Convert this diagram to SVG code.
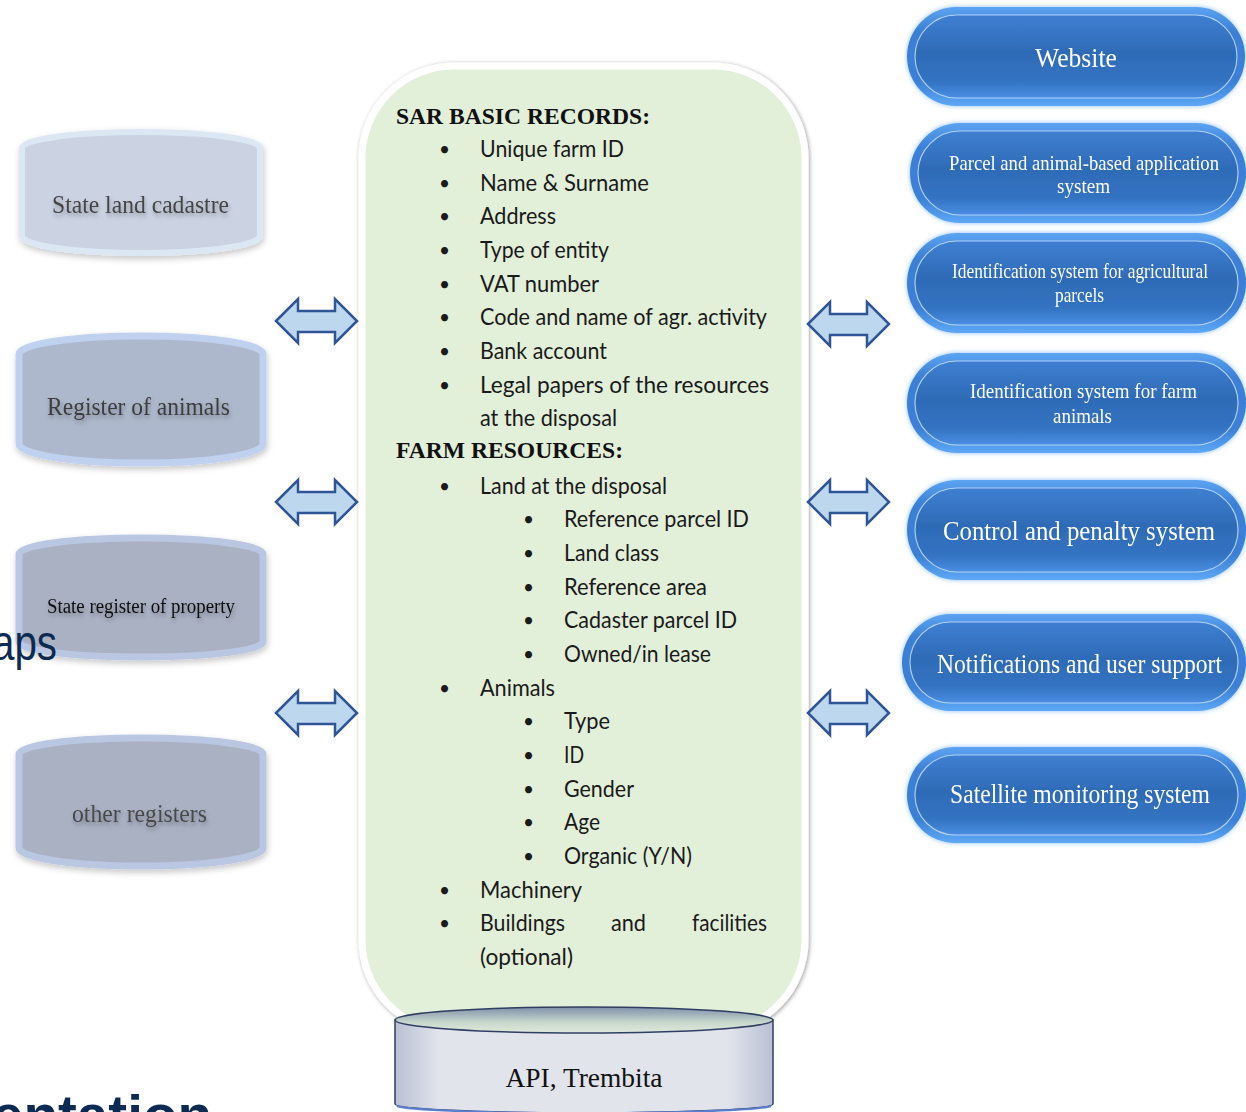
<svg xmlns="http://www.w3.org/2000/svg" width="1246" height="1112" viewBox="0 0 1246 1112">
<defs>
  <filter id="softShadow" x="-10%" y="-10%" width="120%" height="125%">
    <feDropShadow dx="1" dy="3" stdDeviation="3" flood-color="#000" flood-opacity="0.22"/>
  </filter>
  <filter id="boxShadow" x="-5%" y="-5%" width="110%" height="110%">
    <feDropShadow dx="1" dy="1" stdDeviation="2.2" flood-color="#000" flood-opacity="0.4"/>
  </filter>
  <filter id="textShadow" x="-10%" y="-30%" width="120%" height="170%">
    <feDropShadow dx="1" dy="3" stdDeviation="2" flood-color="#000" flood-opacity="0.3"/>
  </filter>
  <filter id="pillGlow" x="-5%" y="-10%" width="110%" height="120%">
    <feGaussianBlur in="SourceAlpha" stdDeviation="2.5" result="b"/>
    <feFlood flood-color="#6fb0ff" flood-opacity="0.8"/>
    <feComposite in2="b" operator="in" result="g"/>
    <feMerge><feMergeNode in="g"/><feMergeNode in="SourceGraphic"/></feMerge>
  </filter>
  <linearGradient id="pillOuter" x1="0" y1="0" x2="0" y2="1">
    <stop offset="0" stop-color="#5da4f2"/>
    <stop offset="0.25" stop-color="#3a7fd6"/>
    <stop offset="0.75" stop-color="#3a7fd6"/>
    <stop offset="1" stop-color="#5ea8f6"/>
  </linearGradient>
  <linearGradient id="pillInner" x1="0" y1="0" x2="0" y2="1">
    <stop offset="0" stop-color="#3f7fd2"/>
    <stop offset="0.45" stop-color="#2e6bb6"/>
    <stop offset="0.8" stop-color="#3373c2"/>
    <stop offset="1" stop-color="#4a8ee2"/>
  </linearGradient>
  <linearGradient id="apiBody" x1="0" y1="0" x2="1" y2="0">
    <stop offset="0" stop-color="#b9c0d3"/>
    <stop offset="0.12" stop-color="#e2e4ec"/>
    <stop offset="0.88" stop-color="#e2e4ec"/>
    <stop offset="1" stop-color="#b9c0d3"/>
  </linearGradient>
  <linearGradient id="apiTop" x1="0" y1="0" x2="0" y2="1">
    <stop offset="0" stop-color="#7f90ab"/>
    <stop offset="0.6" stop-color="#c9d8cc"/>
    <stop offset="1" stop-color="#e0e9dc"/>
  </linearGradient>
  <style>
    .cylText { font-family: "Liberation Serif", serif; }
    .pill-t { font-family: "Liberation Serif", serif; fill: #ffffff; text-anchor: middle; }
    .pillInnerLine { fill: url(#pillInner); stroke: #d6e8ff; stroke-opacity: 0.75; stroke-width: 1.2; }
    .pillOuterShape { fill: url(#pillOuter); }
    .hdr { font-family: "Liberation Serif", serif; font-weight: bold; font-size: 24px; fill: #111; }
    .li { font-family: Lato, "Liberation Sans", sans-serif; font-size: 23px; fill: #1a1a1a; }
    .bul { font-family: Lato, "Liberation Sans", sans-serif; font-size: 19px; fill: #1a1a1a; }
    .arrow { fill: #bdd7ee; stroke: #2f5597; stroke-width: 2.5; stroke-linejoin: miter; }
    .bgText { font-family: "Liberation Sans", Arial, sans-serif; fill: #0d2a52; }
  </style>
</defs>

<rect width="1246" height="1112" fill="#ffffff"/>

<!-- left register cylinders -->
<g id="n-state-land-cadastre" filter="url(#softShadow)">
  <path d="M22,148 A119,16 0 0 1 260,148 L260,236 A119,17 0 0 1 22,236 Z" fill="#cbd3e3" stroke="#dce7f4" stroke-width="6"/>
  <text class="cylText" x="52" y="213" font-size="26" fill="#444" textLength="177" lengthAdjust="spacingAndGlyphs" filter="url(#textShadow)">State land cadastre</text>
</g>
<g id="n-register-of-animals" filter="url(#softShadow)">
  <path d="M19,354 A122,18 0 0 1 263,354 L263,444 A122,19 0 0 1 19,444 Z" fill="#adb8cc" stroke="#bfd1ee" stroke-width="7"/>
  <text class="cylText" x="47" y="415" font-size="26" fill="#3d3d3d" textLength="183" lengthAdjust="spacingAndGlyphs" filter="url(#textShadow)">Register of animals</text>
</g>
<g id="n-state-register-property" filter="url(#softShadow)">
  <path d="M19,554 A122,16 0 0 1 263,554 L263,642 A122,15 0 0 1 19,642 Z" fill="#a9b1c3" stroke="#b9c7e2" stroke-width="7"/>
  <text class="cylText" x="47" y="613" font-size="20" fill="#111" textLength="188" lengthAdjust="spacingAndGlyphs" filter="url(#textShadow)">State register of property</text>
</g>
<g id="n-other-registers" filter="url(#softShadow)">
  <path d="M19,754 A122,16 0 0 1 263,754 L263,848 A122,18 0 0 1 19,848 Z" fill="#a9b1c3" stroke="#b9c7e2" stroke-width="7"/>
  <text class="cylText" x="72" y="822" font-size="26" fill="#4a4a4a" textLength="135" lengthAdjust="spacingAndGlyphs" filter="url(#textShadow)">other registers</text>
</g>

<!-- background slide fragments -->
<text class="bgText" x="-8" y="660" font-size="50" textLength="65" lengthAdjust="spacingAndGlyphs">aps</text>
<text class="bgText" x="-8" y="1134" font-size="56" font-weight="bold" textLength="220" lengthAdjust="spacingAndGlyphs">entation</text>

<!-- central record box -->
<g id="n-sar-records">
  <rect x="362" y="66" width="443" height="966" rx="92" ry="92" fill="#e2efd9" stroke="#ffffff" stroke-width="7" filter="url(#boxShadow)"/>
  <text class="hdr" x="396" y="124" textLength="254" lengthAdjust="spacingAndGlyphs">SAR BASIC RECORDS:</text>
  <g class="bul">
    <text x="439" y="156">•</text><text x="439" y="189.7">•</text><text x="439" y="223.3">•</text>
    <text x="439" y="257">•</text><text x="439" y="290.7">•</text><text x="439" y="324.3">•</text>
    <text x="439" y="358">•</text><text x="439" y="391.7">•</text>
    <text x="439" y="492.7">•</text>
    <text x="523" y="526.3">•</text><text x="523" y="560">•</text><text x="523" y="593.7">•</text>
    <text x="523" y="627.3">•</text><text x="523" y="661">•</text>
    <text x="439" y="694.7">•</text>
    <text x="523" y="728.3">•</text><text x="523" y="762">•</text><text x="523" y="795.7">•</text>
    <text x="523" y="829.3">•</text><text x="523" y="863">•</text>
    <text x="439" y="896.7">•</text><text x="439" y="930.3">•</text>
  </g>
  <g class="li">
    <text x="480" y="157" textLength="144" lengthAdjust="spacingAndGlyphs">Unique farm ID</text>
    <text x="480" y="190.7" textLength="169" lengthAdjust="spacingAndGlyphs">Name &amp; Surname</text>
    <text x="480" y="224.3" textLength="76" lengthAdjust="spacingAndGlyphs">Address</text>
    <text x="480" y="258" textLength="129" lengthAdjust="spacingAndGlyphs">Type of entity</text>
    <text x="480" y="291.7" textLength="119" lengthAdjust="spacingAndGlyphs">VAT number</text>
    <text x="480" y="325.3" textLength="287" lengthAdjust="spacingAndGlyphs">Code and name of agr. activity</text>
    <text x="480" y="359" textLength="127" lengthAdjust="spacingAndGlyphs">Bank account</text>
    <text x="480" y="392.7" textLength="289" lengthAdjust="spacingAndGlyphs">Legal  papers  of  the  resources</text>
    <text x="480" y="426.3" textLength="137" lengthAdjust="spacingAndGlyphs">at the disposal</text>
    <text x="480" y="493.7" textLength="187" lengthAdjust="spacingAndGlyphs">Land at the disposal</text>
    <text x="564" y="527.3" textLength="185" lengthAdjust="spacingAndGlyphs">Reference parcel ID</text>
    <text x="564" y="561" textLength="95" lengthAdjust="spacingAndGlyphs">Land class</text>
    <text x="564" y="594.7" textLength="143" lengthAdjust="spacingAndGlyphs">Reference area</text>
    <text x="564" y="628.3" textLength="173" lengthAdjust="spacingAndGlyphs">Cadaster parcel ID</text>
    <text x="564" y="662" textLength="147" lengthAdjust="spacingAndGlyphs">Owned/in lease</text>
    <text x="480" y="695.7" textLength="75" lengthAdjust="spacingAndGlyphs">Animals</text>
    <text x="564" y="729.3" textLength="46" lengthAdjust="spacingAndGlyphs">Type</text>
    <text x="564" y="763" textLength="20" lengthAdjust="spacingAndGlyphs">ID</text>
    <text x="564" y="796.7" textLength="70" lengthAdjust="spacingAndGlyphs">Gender</text>
    <text x="564" y="830.3" textLength="36" lengthAdjust="spacingAndGlyphs">Age</text>
    <text x="564" y="864" textLength="128" lengthAdjust="spacingAndGlyphs">Organic (Y/N)</text>
    <text x="480" y="897.7" textLength="102" lengthAdjust="spacingAndGlyphs">Machinery</text>
    <text y="931.3"><tspan x="480" textLength="85" lengthAdjust="spacingAndGlyphs">Buildings</tspan><tspan x="611" textLength="35" lengthAdjust="spacingAndGlyphs">and</tspan><tspan x="692" textLength="75" lengthAdjust="spacingAndGlyphs">facilities</tspan></text>
    <text x="480" y="965" textLength="93" lengthAdjust="spacingAndGlyphs">(optional)</text>
  </g>
  <text class="hdr" x="396" y="458" textLength="227" lengthAdjust="spacingAndGlyphs">FARM RESOURCES:</text>
</g>

<!-- API cylinder -->
<g id="n-api-trembita">
  <path d="M395,1020 L395,1104 A189,9 0 0 0 773,1104 L773,1020 Z" fill="url(#apiBody)" stroke="#2e3f63" stroke-width="1.5"/>
  <path d="M397,1106 A188,8 0 0 0 771,1106" fill="none" stroke="#5b7fcf" stroke-width="2"/>
  <ellipse cx="584" cy="1020" rx="189" ry="13" fill="url(#apiTop)" stroke="#2e3f63" stroke-width="1.5"/>
  <text x="584" y="1087" font-family="Liberation Serif, serif" font-size="28" fill="#111" text-anchor="middle" textLength="157" lengthAdjust="spacingAndGlyphs">API, Trembita</text>
</g>

<!-- right system pills -->
<g id="n-website" filter="url(#pillGlow)">
  <rect class="pillOuterShape" x="907" y="7" width="338" height="99" rx="49.5"/>
  <rect class="pillInnerLine" x="915" y="15" width="322" height="83" rx="41.5"/>
  <text class="pill-t" x="1076" y="67" font-size="28" textLength="82" lengthAdjust="spacingAndGlyphs">Website</text>
</g>
<g id="n-parcel-animal-application" filter="url(#pillGlow)">
  <rect class="pillOuterShape" x="910" y="123" width="336" height="100" rx="50"/>
  <rect class="pillInnerLine" x="918" y="131" width="320" height="84" rx="42"/>
  <text class="pill-t" x="1084" y="170" font-size="21" textLength="270" lengthAdjust="spacingAndGlyphs">Parcel and animal-based application</text>
  <text class="pill-t" x="1083.5" y="193" font-size="21" textLength="53" lengthAdjust="spacingAndGlyphs">system</text>
</g>
<g id="n-ident-parcels" filter="url(#pillGlow)">
  <rect class="pillOuterShape" x="907" y="233" width="339" height="100" rx="50"/>
  <rect class="pillInnerLine" x="915" y="241" width="323" height="84" rx="42"/>
  <text class="pill-t" x="1080" y="278" font-size="21" textLength="256" lengthAdjust="spacingAndGlyphs">Identification system for agricultural</text>
  <text class="pill-t" x="1079.5" y="302" font-size="21" textLength="49" lengthAdjust="spacingAndGlyphs">parcels</text>
</g>
<g id="n-ident-animals" filter="url(#pillGlow)">
  <rect class="pillOuterShape" x="907" y="353" width="339" height="100" rx="50"/>
  <rect class="pillInnerLine" x="915" y="361" width="323" height="84" rx="42"/>
  <text class="pill-t" x="1083.5" y="398" font-size="21" textLength="227" lengthAdjust="spacingAndGlyphs">Identification system for farm</text>
  <text class="pill-t" x="1082.5" y="423" font-size="21" textLength="59" lengthAdjust="spacingAndGlyphs">animals</text>
</g>
<g id="n-control-penalty" filter="url(#pillGlow)">
  <rect class="pillOuterShape" x="907" y="480" width="339" height="100" rx="50"/>
  <rect class="pillInnerLine" x="915" y="488" width="323" height="84" rx="42"/>
  <text class="pill-t" x="1079" y="540" font-size="27" textLength="272" lengthAdjust="spacingAndGlyphs">Control and penalty system</text>
</g>
<g id="n-notifications" filter="url(#pillGlow)">
  <rect class="pillOuterShape" x="902" y="614" width="344" height="97" rx="48.5"/>
  <rect class="pillInnerLine" x="910" y="622" width="328" height="81" rx="40.5"/>
  <text class="pill-t" x="1079.5" y="673" font-size="27" textLength="285" lengthAdjust="spacingAndGlyphs">Notifications and user support</text>
</g>
<g id="n-satellite" filter="url(#pillGlow)">
  <rect class="pillOuterShape" x="907" y="747" width="339" height="96" rx="48"/>
  <rect class="pillInnerLine" x="915" y="755" width="323" height="80" rx="40"/>
  <text class="pill-t" x="1080" y="803" font-size="27" textLength="260" lengthAdjust="spacingAndGlyphs">Satellite monitoring system</text>
</g>

<!-- connectors: double-headed block arrows -->
<g id="connectors">
  <path class="arrow" d="M276,321 L298,299 L298,311 L335,311 L335,299 L357,321 L335,343 L335,332 L298,332 L298,343 Z"/>
  <path class="arrow" d="M276,502 L298,480 L298,492 L335,492 L335,480 L357,502 L335,524 L335,513 L298,513 L298,524 Z"/>
  <path class="arrow" d="M276,713 L298,691 L298,703 L335,703 L335,691 L357,713 L335,735 L335,724 L298,724 L298,735 Z"/>
  <path class="arrow" d="M808,324 L830,302 L830,314 L867,314 L867,302 L889,324 L867,346 L867,335 L830,335 L830,346 Z"/>
  <path class="arrow" d="M808,502 L830,480 L830,492 L867,492 L867,480 L889,502 L867,524 L867,513 L830,513 L830,524 Z"/>
  <path class="arrow" d="M808,713 L830,691 L830,703 L867,703 L867,691 L889,713 L867,735 L867,724 L830,724 L830,735 Z"/>
</g>
</svg>
